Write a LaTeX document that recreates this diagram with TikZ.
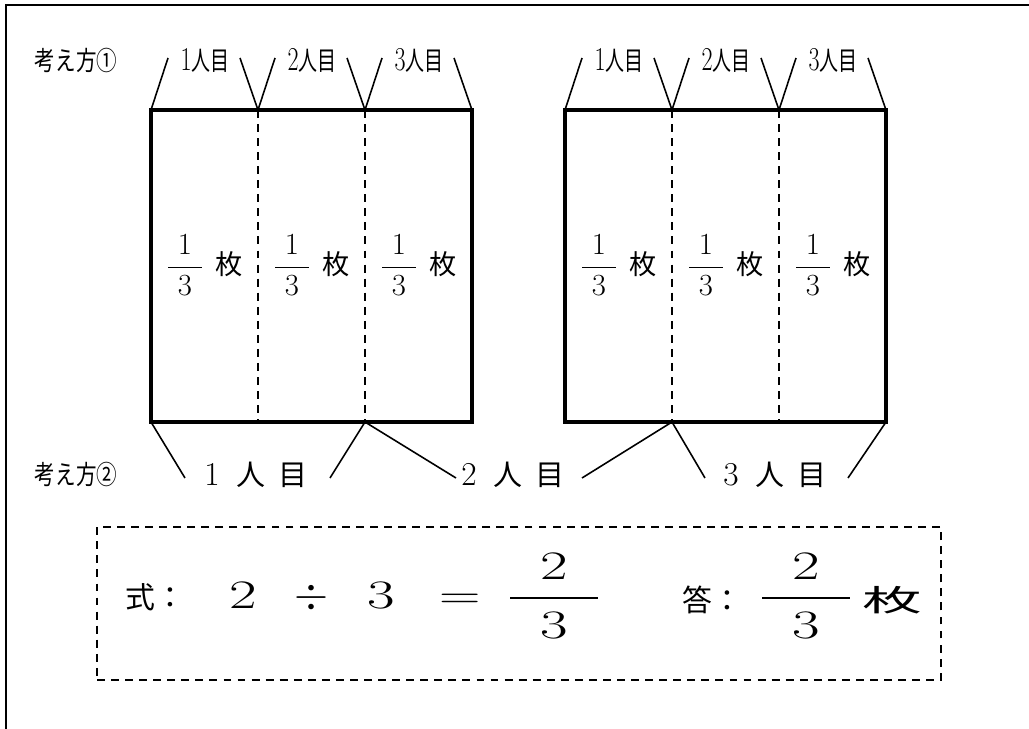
\documentclass[tikz,border=0pt]{standalone}
\usepackage{amsmath}
\usepackage{graphicx}
\usepackage{fontspec}
\newfontfamily\jp{Noto Sans CJK JP}
\newcommand{\jpsize}[1]{\jp\fontsize{#1}{#1}\selectfont}
\newcommand{\lmsize}[1]{\fontsize{#1}{#1}\selectfont}
\newcommand{\wfrac}[3]{$\dfrac{\makebox[#1]{#2}}{\makebox[#1]{#3}}$}
\newcommand{\wide}[1]{\scalebox{1.48}[1]{#1}}
\newcommand{\topnin}[1]{\scalebox{0.72}[1]{\lmsize{19}#1\jpsize{15}人目}}
\newcommand{\botnin}[1]{\lmsize{19}#1\hspace{0.5em}\jpsize{16.5}人\hspace{0.45em}目}
\tikzset{
    frameline/.style={line width=1.1pt},
    rimline/.style={line width=2.4pt},
    partline/.style={line width=0.9pt,dash pattern=on 4.5pt off 3.5pt},
    braceline/.style={line width=0.9pt},
    toplab/.style={inner sep=0pt},
    botlab/.style={inner sep=0pt},
    piece/.style={inner sep=0pt,font=\lmsize{17.5}},
    howlab/.style={inner sep=0pt,font=\jpsize{15}},
    eqn/.style={inner sep=0pt,anchor=base,font=\lmsize{23}},
    eqjp/.style={inner sep=0pt,anchor=base,font=\jpsize{17}},
}

\begin{document}
\begin{tikzpicture}[x=0.02cm,y=-0.02cm]
    \useasboundingbox (0,0) rectangle (1029,729);
    \draw[frameline] (6,729) -- (6,5) -- (1029,5);

    \foreach \side/\x in {L/151,R/565} {
        \foreach \i/\dx in {0/0,1/107,2/214,3/321} {
            \coordinate (\side-t\i) at (\x+\dx,110);
            \coordinate (\side-b\i) at (\x+\dx,422);
            \coordinate (\side-u\i) at (\x+\dx-18,58);
            \coordinate (\side-v\i) at (\x+\dx+17,58);
        }
        \draw[partline] (\side-t1) -- (\side-b1) (\side-t2) -- (\side-b2);
        \draw[rimline] (\side-t0) rectangle (\side-b3);
        \draw[braceline] (\side-v0) -- (\side-t0);
        \draw[braceline] (\side-u1) -- (\side-t1) -- (\side-v1);
        \draw[braceline] (\side-u2) -- (\side-t2) -- (\side-v2);
        \draw[braceline] (\side-u3) -- (\side-t3);
        \foreach \i/\dx in {1/0,2/107,3/214} {
            \node[toplab] (\side-h\i) at (\x+\dx+54,60) {\topnin{\i}};
            \node[piece] (\side-p\i) at (\x+\dx+53.5,265)
                {\wfrac{19pt}{1}{3}\hspace{6.8pt}{\jpsize{15.5}枚}};
        }
    }

    \node[howlab] (how1) at (76,60) {\scalebox{0.78}[1]{考え方①}};
    \node[howlab] (how2) at (76,474) {\scalebox{0.78}[1]{考え方②}};

    \coordinate (e1) at (185,478);
    \coordinate (e2) at (330,478);
    \coordinate (e3) at (456,478);
    \coordinate (e4) at (582,478);
    \coordinate (e5) at (705,478);
    \coordinate (e6) at (848,478);
    \draw[braceline] (L-b0) -- (e1);
    \draw[braceline] (e2) -- (L-b2) -- (e3);
    \draw[braceline] (e4) -- (R-b1) -- (e5);
    \draw[braceline] (R-b3) -- (e6);
    \node[botlab] (n1) at (256,475) {\botnin{1}};
    \node[botlab] (n2) at (513,475) {\botnin{2}};
    \node[botlab] (n3) at (775,475) {\botnin{3}};

    \node[draw,partline,minimum width=844*0.02cm,minimum height=153*0.02cm]
        (calc) at (519,603.5) {};
    \node[eqjp] (shiki) at (155,609) {式：};
    \node[eqn] (a) at (243,609) {\wide{2}};
    \node[eqn] (div) at (311,609) {$\div$};
    \node[eqn] (b) at (381,609) {\wide{3}};
    \node[eqn] (eq) at (460,609) {\scalebox{1.42}[1]{=}};
    \node[eqn] (res) at (554,609) {\wfrac{50pt}{\wide{2}}{\wide{3}}};
    \node[eqjp] (kotae) at (712,612) {答：};
    \node[eqn] (ans) at (806,609) {\wfrac{50pt}{\wide{2}}{\wide{3}}};
    \node[eqjp] (mai) at (892,612) {\scalebox{2}[1]{枚}};
\end{tikzpicture}
\end{document}
